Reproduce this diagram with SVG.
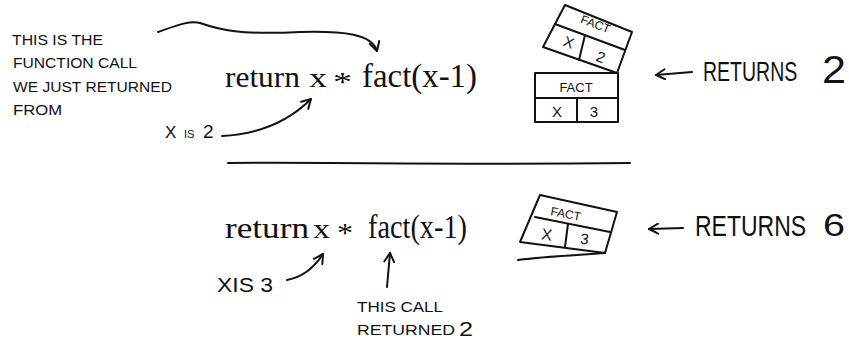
<svg xmlns="http://www.w3.org/2000/svg" width="849" height="340" viewBox="0 0 849 340">
<style>
.hand{font-family:"Liberation Sans",Arial,sans-serif;fill:#111;}
.code{font-family:"Liberation Serif","Times New Roman",serif;fill:#111;}
.ln{fill:none;stroke:#111;stroke-width:2;stroke-linecap:round;stroke-linejoin:round;}
.box{fill:#fff;stroke:#111;stroke-width:2;stroke-linejoin:round;}
</style>
<defs>
<marker id="ah" viewBox="0 0 12 12" refX="10" refY="6" markerWidth="12" markerHeight="12" markerUnits="userSpaceOnUse" orient="auto">
<path d="M1,1 L10,6 L1,11" fill="none" stroke="#111" stroke-width="2" stroke-linecap="round" stroke-linejoin="round"/>
</marker>
</defs>
<rect width="849" height="340" fill="#fff"/>

<g id="note-top">
<text class="hand" font-size="14" x="12" y="45" textLength="91" lengthAdjust="spacingAndGlyphs">THIS IS THE</text>
<text class="hand" font-size="14" x="13" y="68" textLength="124" lengthAdjust="spacingAndGlyphs">FUNCTION CALL</text>
<text class="hand" font-size="14" x="13" y="92" textLength="159" lengthAdjust="spacingAndGlyphs">WE JUST RETURNED</text>
<text class="hand" font-size="14" x="13" y="115" textLength="49" lengthAdjust="spacingAndGlyphs">FROM</text>
</g>

<g id="code-top">
<text class="code" y="87" font-size="30"><tspan x="225" textLength="75" lengthAdjust="spacingAndGlyphs">return</tspan><tspan x="309" font-size="28" textLength="18" lengthAdjust="spacingAndGlyphs">x</tspan><tspan x="333" font-size="28" dy="4" textLength="19" lengthAdjust="spacingAndGlyphs">*</tspan><tspan x="362" dy="-4" font-size="34" textLength="115" lengthAdjust="spacingAndGlyphs">fact(x-1)</tspan></text>
</g>

<g id="label-x2">
<text class="hand" y="138"><tspan x="165" font-size="17">X</tspan><tspan x="184" font-size="11">IS</tspan><tspan x="203" font-size="19">2</tspan></text>
</g>

<g id="stack-top">
<polygon class="box" points="535,73 618,73 618,122 535,122"/>
<line class="ln" x1="535" y1="98" x2="618" y2="98"/>
<line class="ln" x1="577" y1="98" x2="577" y2="122"/>
<text class="hand" font-size="13" x="576" y="92" text-anchor="middle">FACT</text>
<text class="hand" font-size="15" x="557" y="117" text-anchor="middle">X</text>
<text class="hand" font-size="15" x="594" y="117" text-anchor="middle">3</text>
<polygon class="box" points="565,5 632,32 617,73 543,47"/>
<line class="ln" x1="555" y1="24" x2="625" y2="50"/>
<line class="ln" x1="585" y1="35" x2="579" y2="60"/>
<text class="hand" font-size="12" transform="translate(594,28) rotate(21)" text-anchor="middle">FACT</text>
<text class="hand" font-size="15" transform="translate(567,47) rotate(21)" text-anchor="middle">X</text>
<text class="hand" font-size="15" transform="translate(599,62) rotate(21)" text-anchor="middle">2</text>
</g>

<g id="returns-2">
<text class="hand" font-size="19.5" transform="translate(703,81) scale(1,1.4)">RETURNS</text>
<text class="hand" font-size="38" x="822" y="83" textLength="24" lengthAdjust="spacingAndGlyphs">2</text>
</g>

<g id="divider">
<path class="ln" d="M228,163 C330,162 450,165 630,163"/>
</g>

<g id="code-bottom">
<text class="code" y="238" font-size="30"><tspan x="225" textLength="84" lengthAdjust="spacingAndGlyphs">return</tspan><tspan x="313" font-size="28" textLength="17" lengthAdjust="spacingAndGlyphs">x</tspan><tspan x="337" font-size="28" dy="4" textLength="16" lengthAdjust="spacingAndGlyphs">*</tspan><tspan x="368" dy="-4" font-size="34" textLength="99" lengthAdjust="spacingAndGlyphs">fact(x-1)</tspan></text>
</g>

<g id="label-x3">
<text class="hand" font-size="20" x="217" y="292" textLength="56" lengthAdjust="spacingAndGlyphs">XIS 3</text>
</g>

<g id="label-call">
<text class="hand" font-size="14" x="357" y="312" textLength="86" lengthAdjust="spacingAndGlyphs">THIS CALL</text>
<text class="hand" font-size="14" x="357" y="335" textLength="98" lengthAdjust="spacingAndGlyphs">RETURNED</text>
<text class="hand" font-size="20" x="459" y="336" textLength="14" lengthAdjust="spacingAndGlyphs">2</text>
</g>

<g id="stack-bottom">
<polygon class="box" points="540,195 617,212 605,253 520,242"/>
<line class="ln" x1="535" y1="217" x2="610" y2="232"/>
<line class="ln" x1="568" y1="224" x2="565" y2="247"/>
<path class="ln" d="M518,260 C550,256 580,255 605,253"/>
<text class="hand" font-size="12" transform="translate(565,218) rotate(11)" text-anchor="middle">FACT</text>
<text class="hand" font-size="16" transform="translate(546,240) rotate(8)" text-anchor="middle">X</text>
<text class="hand" font-size="15" transform="translate(584,244) rotate(8)" text-anchor="middle">3</text>
</g>

<g id="returns-6">
<text class="hand" font-size="23" transform="translate(695,236) scale(1,1.3)">RETURNS</text>
<text class="hand" font-size="31" x="823" y="236" textLength="22" lengthAdjust="spacingAndGlyphs">6</text>
</g>

<g id="connectors">
<path class="ln" marker-end="url(#ah)" d="M158,32 C175,26 190,20 200,23 C220,30 240,35 300,32 C345,31 372,34 377,51"/>
<path class="ln" marker-end="url(#ah)" d="M222,136 C260,134 290,120 311,99"/>
<path class="ln" marker-end="url(#ah)" d="M692,72 L656,75"/>
<path class="ln" marker-end="url(#ah)" d="M287,280 C303,277 314,268 323,254"/>
<path class="ln" marker-end="url(#ah)" d="M387,287 L390,253"/>
<path class="ln" marker-end="url(#ah)" d="M683,228 L649,229"/>
</g>
</svg>
